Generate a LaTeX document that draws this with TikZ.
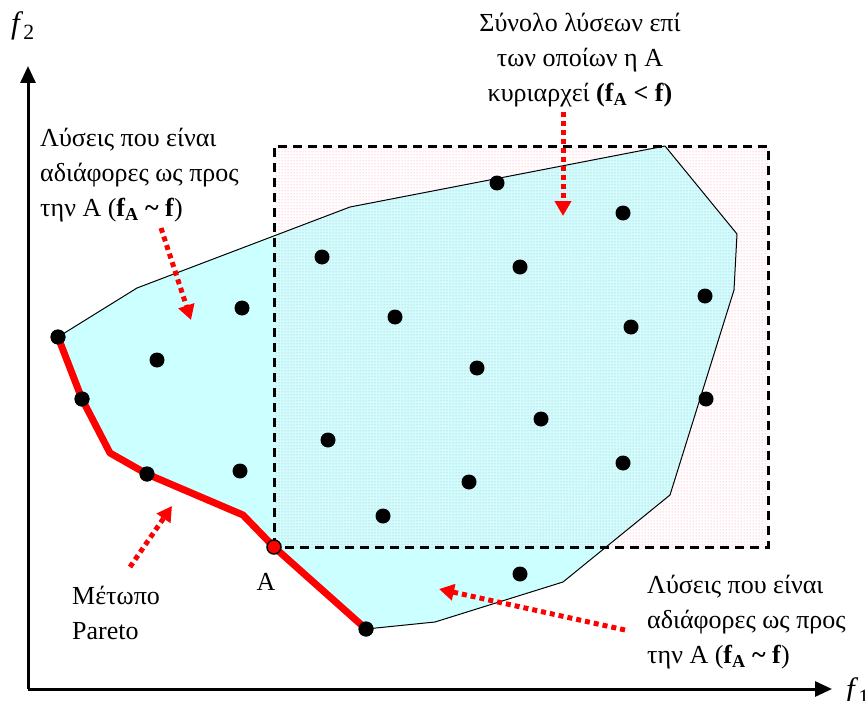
\documentclass[tikz,border=0pt]{standalone}
\usepackage{fontspec}
\setmainfont{Liberation Serif}
\usetikzlibrary{arrows.meta,patterns}
\definecolor{cyanfill}{HTML}{CCFFFF}
\definecolor{dotpink}{HTML}{FF8CA8}
\newcommand{\fAsub}{\textbf{f\textsubscript{A}}}
\tikzset{
  sol/.style={circle,fill=black,inner sep=0pt,minimum size=15pt},
  ptA/.style={circle,fill=red,draw=black,line width=1.5pt,inner sep=0pt,minimum size=14pt},
  txt/.style={font=\fontsize{26}{35}\selectfont,inner sep=0pt},
  axlabel/.style={font=\fontsize{31}{34}\selectfont,inner sep=0pt},
  redarrow/.style={red,line width=5pt,dash pattern=on 5pt off 4pt,-{Triangle[length=15pt,width=16pt]}},
  axisline/.style={line width=3pt,-{Triangle[length=17pt,width=15pt]}},
  paretoline/.style={red,line width=7pt,line join=round},
  regionline/.style={draw=black,line width=1pt,line join=round},
  domrect/.style={draw=black,line width=3pt,dash pattern=on 9pt off 6pt},
}
\begin{document}
\begin{tikzpicture}[x=1pt,y=-1pt]
\useasboundingbox (0,0) rectangle (868,701);
% region of solutions
\fill[cyanfill] (58,337) -- (137,288) -- (350,207) -- (665,146) -- (737,234) -- (734,290)
  -- (670,495) -- (563,582) -- (435,622) -- (366,629) -- (274,547) -- (243,515)
  -- (110,453) -- (82,399) -- cycle;
\fill[pattern=dots,pattern color=dotpink] (274,146) rectangle (768,547);
\draw[regionline] (58,337) -- (137,288) -- (350,207) -- (665,146) -- (737,234) -- (734,290)
  -- (670,495) -- (563,582) -- (435,622) -- (366,629);
\draw[domrect] (274,547) |- (768,146) |- cycle;
% axes
\coordinate (O) at (28,689);
\coordinate (ytip) at (28,66);
\coordinate (xtip) at (832,689);
\draw[axisline] (O) -- (ytip);
\draw[axisline] (O) -- (xtip);
\node[axlabel,anchor=base west] (f2) at (11,34) {\textit{f}\textsubscript{2}};
\node[axlabel,anchor=base west] (f1) at (846,699) {\textit{f}\textsubscript{1}};
% Pareto front
\coordinate (v1) at (110,453);
\coordinate (v2) at (243,515);
\node[sol] (p1) at (58,337) {};
\node[sol] (p2) at (82,399) {};
\node[sol] (p3) at (147,474) {};
\node[sol] (p4) at (366,629) {};
\draw[paretoline] (p1.center) -- (p2.center) -- (v1) -- (p3.center) -- (v2) -- (274,547) -- (p4.center);
\node[sol] at (58,337) {};
\node[sol] at (82,399) {};
\node[sol] at (147,474) {};
\node[sol] at (366,629) {};
\node[ptA] (A) at (274,547) {};
% other solutions
\node[sol] (s1) at (497,183) {};
\node[sol] (s2) at (623,213) {};
\node[sol] (s3) at (322,257) {};
\node[sol] (s4) at (520,267) {};
\node[sol] (s5) at (242,308) {};
\node[sol] (s6) at (705,296) {};
\node[sol] (s7) at (395,317) {};
\node[sol] (s8) at (631,327) {};
\node[sol] (s9) at (157,360) {};
\node[sol] (s10) at (477,368) {};
\node[sol] (s11) at (706,399) {};
\node[sol] (s12) at (541,419) {};
\node[sol] (s13) at (328,440) {};
\node[sol] (s14) at (623,463) {};
\node[sol] (s15) at (240,471) {};
\node[sol] (s16) at (469,482) {};
\node[sol] (s17) at (383,516) {};
\node[sol] (s18) at (520,574) {};
% labels
\node[txt,anchor=base] (Alabel) at (266,590) {A};
\node[txt,align=left,anchor=north west] (pareto) at (72,586) {Μέτωπο\\Pareto};
\node[txt,align=left,anchor=north west] (indL) at (40,128) {Λύσεις που είναι\\αδιάφορες ως προς\\την A (\fAsub\ \textbf{\textasciitilde\ f})};
\node[txt,align=left,anchor=north west] (indR) at (647,575) {Λύσεις που είναι\\αδιάφορες ως προς\\την A (\fAsub\ \textbf{\textasciitilde\ f})};
\node[txt,align=center,anchor=north] (domT) at (580,13) {Σύνολο λύσεων επί\\των οποίων η A\\κυριαρχεί \textbf{(}\fAsub\ \textbf{< f)}};
% arrows
\coordinate (a1s) at (563,112); \coordinate (a1e) at (563,216);
\coordinate (a2s) at (161,228); \coordinate (a2e) at (191,320);
\coordinate (a3s) at (130,567); \coordinate (a3e) at (172,506);
\coordinate (a4s) at (625,630); \coordinate (a4e) at (439,589);
\draw[redarrow] (a1s) -- (a1e);
\draw[redarrow] (a2s) -- (a2e);
\draw[redarrow] (a3s) -- (a3e);
\draw[redarrow] (a4s) -- (a4e);
\end{tikzpicture}
\end{document}
